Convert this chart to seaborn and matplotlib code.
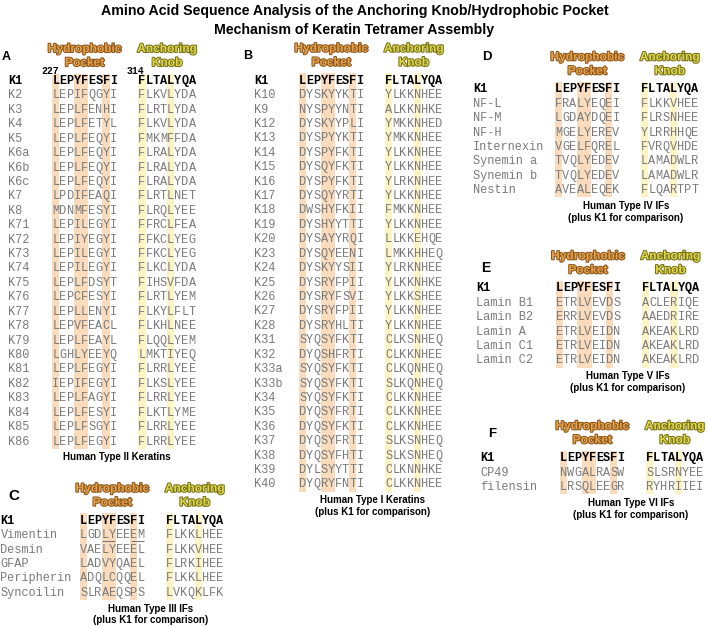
import numpy as np
import pandas as pd
import seaborn as sns
import matplotlib
matplotlib.use("Agg")
import matplotlib.pyplot as plt
from matplotlib import patheffects as pe
from matplotlib.colors import ListedColormap

# ---------------- data ----------------
ref_name = "K1"
ref_pocket = "LEPYFESFI"
ref_knob = "FLTALYQA"
pocket_core = [0, 3, 4, 7]
knob_core = [0, 4]

a_names = ["K2", "K3", "K4", "K5", "K6a", "K6b", "K6c", "K7", "K8", "K71", "K72", "K73",
           "K74", "K75", "K76", "K77", "K78", "K79", "K80", "K81", "K82", "K83", "K84", "K85", "K86"]
a_pocket = ["LEPIFQGYI", "LEPLFENHI", "LEPLFETYL", "LEPLFEQYI", "LEPLFEQYI", "LEPLFEQYI",
            "LEPLFEQYI", "LPDIFEAQI", "MDNMFESYI", "LEPILEGYI", "LEPIYEGYI", "LEPILEGYI",
            "LEPILEGYI", "LEPLFDSYT", "LEPCFESYI", "LEPLLENYI", "LEPVFEACL", "LEPLFEAYL",
            "LGHLYEEYQ", "LEPLFEGYI", "IEPIFEGYI", "LEPLFAGYI", "LEPLFESYI", "LEPLFSGYI", "LEPLFEGYI"]
a_knob = ["FLKVLYDA", "FLRTLYDA", "FLKVLYDA", "FMKMFFDA", "FLRALYDA", "FLRALYDA", "FLRALYDA",
          "FLRTLNET", "FLRQLYEE", "FFRCLFEA", "FFKCLYEG", "FFKCLYEG", "FLKCLYDA", "FIHSVFDA",
          "FLRTLYEM", "FLKYLFLT", "FLKHLNEE", "FLQQLYEM", "LMKTIYEQ", "FLRRLYEE", "FLKSLYEE",
          "FLRRLYEE", "FLKTLYME", "FLRRLYEE", "FLRRLYEE"]

b_names = ["K10", "K9", "K12", "K13", "K14", "K15", "K16", "K17", "K18", "K19", "K20", "K23",
           "K24", "K25", "K26", "K27", "K28", "K31", "K32", "K33a", "K33b", "K34", "K35", "K36",
           "K37", "K38", "K39", "K40"]
b_pocket = ["DYSKYYKTI", "NYSPYYNTI", "DYSKYYPLI", "DYSPYYKTI", "DYSPYFKTI", "DYSQYFKTI",
            "DYSPYFKTI", "DYSQYYRTI", "DWSHYFKII", "DYSHYYTTI", "DYSAYYRQI", "DYSQYEENI",
            "DYSKYYSII", "DYSRYFPII", "DYSRYFSVI", "DYSRYFPII", "DYSRYHLTI", "SYQSYFKTI",
            "DYQSHFRTI", "SYQSYFKTI", "SYQSYFKTI", "SYQSYFKTI", "DYQSYFRTI", "DYQSYFKTI",
            "DYQSYFRTI", "DYQSYFHTI", "DYLSYYTTI", "DYQRYFNTI"]
b_knob = ["YLKKNHEE", "ALKKNHKE", "YMKKNHED", "YMKKNHEE", "YLKKNHEE", "YLKKNHEE", "YLRKNHEE",
          "YLKKNHEE", "FMKKNHEE", "YLKKNHEE", "LLKKEHQE", "LMKKHHEQ", "YLRKNHEE", "YLKKNHKE",
          "YLKKSHEE", "YLKKNHEE", "YLKKNHEE", "CLKSNHEQ", "CLKKNHEE", "CLKQNHEQ", "SLKQNHEQ",
          "CLKKNHEE", "CLKKNHEE", "CLKKNHEE", "SLKSNHEQ", "SLKSNHEQ", "CLKNNHKE", "CLKKNHEE"]

c_names = ["Vimentin", "Desmin", "GFAP", "Peripherin", "Syncoilin"]
c_pocket = ["LGDLYEEEM", "VAELYEEEL", "LADVYQAEL", "ADQLCQQEL", "SLRAEQSPS"]
c_knob = ["FLKKLHEE", "FLKKVHEE", "FLRKIHEE", "FLKKLHEE", "LVKQKLFK"]
c_underlined = {"Vimentin": [(3, 5), (7, 9)]}

d_names = ["NF-L", "NF-M", "NF-H", "Internexin", "Synemin a", "Synemin b", "Nestin"]
d_pocket = ["FRALYEQEI", "LGDAYDQEI", "MGELYEREV", "VGELFQREL", "TVQLYEDEV", "TVQLYEDEV", "AVEALEQEK"]
d_knob = ["FLKKVHEE", "FLRSNHEE", "YLRRHHQE", "FVRQVHDE", "LAMADWLR", "LAMADWLR", "FLQARTPT"]

e_names = ["Lamin B1", "Lamin B2", "Lamin A", "Lamin C1", "Lamin C2"]
e_pocket = ["ETRLVEVDS", "ERRLVEVDS", "ETRLVEIDN", "ETRLVEIDN", "ETRLVEIDN"]
e_knob = ["ACLERIQE", "AAEDRIRE", "AKEAKLRD", "AKEAKLRD", "AKEAKLRD"]

f_names = ["CP49", "filensin"]
f_pocket = ["NWGALRASW", "LRSQLEEGR"]
f_knob = ["SLSRNYEE", "RYHRIIEI"]

captions = {
    "A": ["Human Type II Keratins"],
    "B": ["Human Type I Keratins", "(plus K1 for comparison)"],
    "C": ["Human Type III IFs", "(plus K1 for comparison)"],
    "D": ["Human Type IV IFs", "(plus K1 for comparison)"],
    "E": ["Human Type V IFs", "(plus K1 for comparison)"],
    "F": ["Human Type VI IFs", "(plus K1 for comparison)"],
}
header_pocket = ["Hydrophobic", "Pocket"]
header_knob = ["Anchoring", "Knob"]
title_lines = ["Amino Acid Sequence Analysis of the Anchoring Knob/Hydrophobic Pocket",
               "Mechanism of Keratin Tetramer Assembly"]
pos_labels = ["227", "314"]

# ---------------- layout (pixels) ----------------
W, H = 709, 627
RH = 14.42   # row height
CW = 7.17    # monospace character width
GAP = 3      # blank columns between pocket and knob
layout = {
    # letter: (label_x, label_y, label_size, name_x, seq_x0, first_row_y, caption_x)
    "A": (2, 57, 9, 8, 52.3, 81, 117),
    "B": (243, 56, 9, 254, 299, 80.7, 372.5),
    "C": (8, 496, 11, 0.5, 80, 520.7, 151),
    "D": (482, 57, 9.5, 473.3, 555, 89.3, 626),
    "E": (481, 268, 10, 476, 555.7, 288.3, 628),
    "F": (488, 434, 9.5, 480, 560, 458.3, 631),
}
panels = {
    "A": (a_names, a_pocket, a_knob),
    "B": (b_names, b_pocket, b_knob),
    "C": (c_names, c_pocket, c_knob),
    "D": (d_names, d_pocket, d_knob),
    "E": (e_names, e_pocket, e_knob),
    "F": (f_names, f_pocket, f_knob),
}

ORANGE = "#fadbbc"
YELLOW = "#fcf4c4"
SEQ_GRAY = "#7a7a7a"
MONO = "Liberation Mono"
SANS = ["Liberation Sans", "DejaVu Sans"]

sns.set_theme(style="white")
plt.rcParams["font.family"] = SANS

fig = plt.figure(figsize=(W / 100, H / 100), dpi=100)
fig.patch.set_facecolor("white")


def fx(px):
    return px / W


def fy(py):
    return 1 - py / H


pocket_fx = [pe.withStroke(linewidth=1.5, foreground="#8a561c")]
knob_fx = [pe.withStroke(linewidth=1.5, foreground="#77711a")]

ncols = len(ref_pocket) + GAP + len(ref_knob)

for key, (names, pockets, knobs) in panels.items():
    lx, ly, lsize, name_x, x0, y0, cap_x = layout[key]
    all_names = [ref_name] + names
    all_pockets = [ref_pocket] + pockets
    all_knobs = [ref_knob] + knobs
    n = len(all_names)

    # highlight matrix: 1 = hydrophobic pocket core, 2 = anchoring knob core
    mat = np.zeros((n, ncols))
    mat[:, pocket_core] = 1
    mat[:, [len(ref_pocket) + GAP + k for k in knob_core]] = 2
    df = pd.DataFrame(mat)

    top = y0 - RH / 2
    ax = fig.add_axes([fx(x0), fy(top + n * RH), ncols * CW / W, n * RH / H])
    sns.heatmap(df, mask=(df == 0), cmap=ListedColormap([ORANGE, YELLOW]), vmin=1, vmax=2,
                cbar=False, ax=ax, xticklabels=False, yticklabels=False, linewidths=0)
    ax.axis("off")

    name_col = (name_x - x0) / CW
    for i, (nm, pk, kn) in enumerate(zip(all_names, all_pockets, all_knobs)):
        is_ref = i == 0
        color = "black" if is_ref else SEQ_GRAY
        weight = "bold" if is_ref else "normal"
        ax.text(name_col, i + 0.5, nm, ha="left", va="center", fontfamily=MONO,
                fontsize=8.6, color=color, fontweight=weight, clip_on=False)
        seq = pk + " " * GAP + kn
        for j, ch in enumerate(seq):
            if ch == " ":
                continue
            ax.text(j + 0.5, i + 0.5, ch, ha="center", va="center", fontfamily=MONO,
                    fontsize=8.6, color=color, fontweight=weight, clip_on=False)
        if key == "C" and nm in c_underlined:
            for (s, e) in c_underlined[nm]:
                ax.plot([s + 0.05, e - 0.05], [i + 0.93, i + 0.93], color=SEQ_GRAY, lw=0.8,
                        solid_capstyle="butt", clip_on=False)

    # panel letter
    fig.text(fx(lx), fy(ly), key, ha="left", va="center", fontsize=lsize, fontweight="bold",
             color="black")

    # headers
    pc = x0 + CW * len(ref_pocket) / 2
    kc = x0 + CW * (len(ref_pocket) + GAP + len(ref_knob) / 2)
    for k, (hp, hk) in enumerate(zip(header_pocket, header_knob)):
        hy = y0 - 32 + 14 * k
        fig.text(fx(pc), fy(hy), hp, ha="center", va="center", fontsize=8.6,
                 fontweight="bold", color="#e8a24a", path_effects=pocket_fx)
        fig.text(fx(kc), fy(hy), hk, ha="center", va="center", fontsize=8.6,
                 fontweight="bold", color="#e0d84a", path_effects=knob_fx)

    # caption
    last_y = y0 + (n - 1) * RH
    for k, line in enumerate(captions[key]):
        fig.text(fx(cap_x), fy(last_y + 16 + 11.5 * k), line, ha="center", va="center",
                 fontsize=7.0, fontweight="bold", color="black")

    # residue position numbers (panel A only)
    if key == "A":
        fig.text(fx(x0 - 1.8), fy(y0 - 9.5), pos_labels[0], ha="center", va="center",
                 fontfamily=MONO, fontsize=7, fontweight="bold", color="black")
        fig.text(fx(x0 + CW * (len(ref_pocket) + GAP) - 2.5), fy(y0 - 9.5), pos_labels[1],
                 ha="center", va="center", fontfamily=MONO, fontsize=7, fontweight="bold",
                 color="black")

# title
fig.text(0.5, fy(11), title_lines[0], ha="center", va="center", fontsize=10.2,
         fontweight="bold", color="black")
fig.text(0.5, fy(30), title_lines[1], ha="center", va="center", fontsize=10.2,
         fontweight="bold", color="black")

fig.savefig("out.png", dpi=100, facecolor="white")
